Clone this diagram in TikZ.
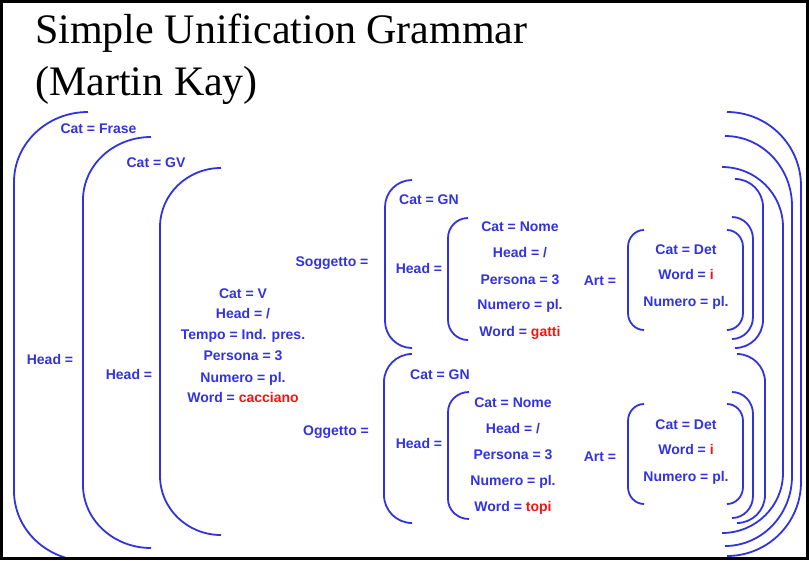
\documentclass[tikz,border=0pt]{standalone}
\usepackage{fontspec}
\setmainfont{Liberation Serif}
\newfontfamily\arfont{Liberation Sans}
\definecolor{fsblue}{RGB}{51,51,221}
\definecolor{fsred}{RGB}{245,20,20}
\newcommand{\brk}[5]{% #1 end x, #2 top y, #3 bottom y, #4 vertical x, #5 y radius
  \draw[brkline] (#1,#2) .. controls ({#1-0.5523*(#1-#4)},#2) and (#4,{#2+#5-0.5523*#5}) .. (#4,{#2+#5})
    -- (#4,{#3-#5}) .. controls (#4,{#3-#5+0.5523*#5}) and ({#1-0.5523*(#1-#4)},#3) .. (#1,#3);}
\newcommand{\rw}[1]{\textcolor{fsred}{#1}}
\tikzset{
  brkline/.style={draw=fsblue, line width=1.8pt},
  lab/.style={anchor=base, inner sep=0pt, text=fsblue, font=\arfont\bfseries\fontsize{14}{16}\selectfont},
  ttl/.style={anchor=base west, inner sep=0pt, font=\fontsize{42}{50}\selectfont}
}
\begin{document}
\begin{tikzpicture}[x=1pt,y=-1pt]
\useasboundingbox (0,0) rectangle (809,560);
\fill[white] (0,0) rectangle (809,560);
% title
\node[ttl] (t1) at (35,43) {Simple Unification Grammar};
\node[ttl] (t2) at (35,95) {(Martin Kay)};
\begin{scope}
\clip (3,3) rectangle (806,557);
% left brackets
\brk{88}{112}{561}{14}{70}
\brk{151}{137}{548}{83}{63}
\brk{221}{168}{535}{160}{59}
\brk{412}{180}{348}{385}{27}
\brk{468}{218}{340}{448}{20}
\brk{644}{230}{330}{628}{17}
\brk{412}{354}{523}{384}{28}
\brk{469}{392}{519}{448}{20}
\brk{644}{404}{504}{628}{17}
% right brackets
\brk{727}{112}{556}{801}{74}
\brk{725}{136}{546}{792}{70}
\brk{722}{167}{533}{783}{60}
\brk{735}{179}{348}{763}{28}
\brk{732}{217}{339}{753}{22}
\brk{727}{230}{330}{743}{17}
\brk{737}{354}{523}{765}{28}
\brk{732}{392}{518}{753}{22}
\brk{727}{404}{504}{743}{17}
\end{scope}
% outer levels
\node[lab] (catfrase) at (98.5,133) {Cat = Frase};
\node[lab] (catgv) at (156,167) {Cat = GV};
\node[lab] (head1) at (50,364) {Head =};
\node[lab] (head2) at (129,379) {Head =};
% verb head
\node[lab] (vcat) at (243,298) {Cat = V};
\node[lab] (vhead) at (243,318) {Head = /};
\node[lab] (vtempo) at (243,339) {Tempo = Ind. pres.};
\node[lab] (vpers) at (243,360) {Persona = 3};
\node[lab] (vnum) at (243,382) {Numero = pl.};
\node[lab] (vword) at (243,402) {Word = \rw{cacciano}};
% soggetto
\node[lab] (sogg) at (332,266) {Soggetto =};
\node[lab] (scat) at (429,204) {Cat = GN};
\node[lab] (shead) at (419,273) {Head =};
\node[lab] (sncat) at (520,231) {Cat = Nome};
\node[lab] (snhead) at (520,257) {Head = /};
\node[lab] (snpers) at (520,284) {Persona = 3};
\node[lab] (snnum) at (520,309) {Numero = pl.};
\node[lab] (snword) at (520,336) {Word = \rw{gatti}};
\node[lab] (sart) at (600,285) {Art =};
\node[lab] (sacat) at (686,254) {Cat = Det};
\node[lab] (saword) at (686,279) {Word = \rw{i}};
\node[lab] (sanum) at (686,306) {Numero = pl.};
% oggetto
\node[lab] (ogg) at (336,435) {Oggetto =};
\node[lab] (ocat) at (440,379) {Cat = GN};
\node[lab] (ohead) at (419,448) {Head =};
\node[lab] (oncat) at (513,407) {Cat = Nome};
\node[lab] (onhead) at (513,433) {Head = /};
\node[lab] (onpers) at (513,459) {Persona = 3};
\node[lab] (onnum) at (513,485) {Numero = pl.};
\node[lab] (onword) at (513,511) {Word = \rw{topi}};
\node[lab] (oart) at (600,461) {Art =};
\node[lab] (oacat) at (686,429) {Cat = Det};
\node[lab] (oaword) at (686,454) {Word = \rw{i}};
\node[lab] (oanum) at (686,481) {Numero = pl.};
% frame
\draw[line width=3pt] (1.5,1.5) rectangle (807.5,558.5);
\end{tikzpicture}
\end{document}
